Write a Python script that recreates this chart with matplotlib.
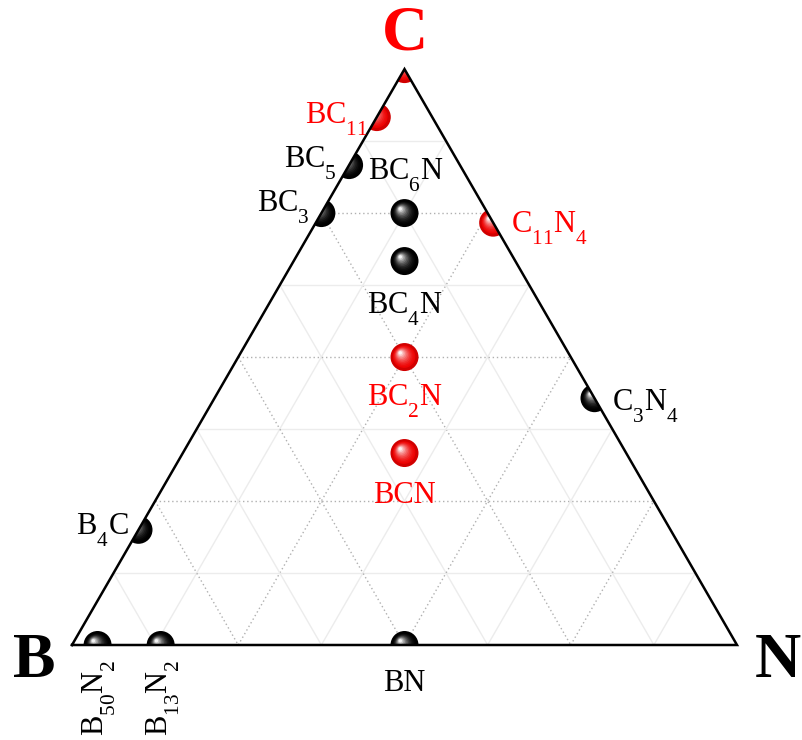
import numpy as np
import matplotlib
matplotlib.use("Agg")
import matplotlib.pyplot as plt
from matplotlib.patches import Polygon, Circle

plt.rcParams['font.family'] = ['Liberation Serif', 'DejaVu Serif']
plt.rcParams['mathtext.fontset'] = 'custom'
plt.rcParams['mathtext.rm'] = 'Liberation Serif'
plt.rcParams['mathtext.it'] = 'Liberation Serif:italic'
plt.rcParams['mathtext.bf'] = 'Liberation Serif:bold'

# deeper subscripts, like the original figure
try:
    import matplotlib._mathtext as _mt
    _mt.FontConstantsBase.sub1 = 0.85
    _mt.FontConstantsBase.sub2 = 0.85
except Exception:
    pass

# compositions as (B, C, N) atom counts
names = ["C", "BC11", "BC5", "BC3", "BC6N", "C11N4", "BC4N", "BC2N", "BCN",
         "C3N4", "B4C", "B50N2", "B13N2", "BN"]
b_cnt = [0, 1, 1, 1, 1, 0, 1, 1, 1, 0, 4, 50, 13, 1]
c_cnt = [1, 11, 5, 3, 6, 11, 4, 2, 1, 3, 1, 0, 0, 0]
n_cnt = [0, 0, 0, 0, 1, 4, 1, 1, 1, 4, 0, 2, 2, 1]
labels = ["", r"BC$_{11}$", r"BC$_{5}$", r"BC$_{3}$", r"BC$_{6}$N", r"C$_{11}$N$_{4}$",
          r"BC$_{4}$N", r"BC$_{2}$N", "BCN", r"C$_{3}$N$_{4}$", r"B$_{4}$C",
          r"B$_{50}$N$_{2}$", r"B$_{13}$N$_{2}$", "BN"]
red_set = {"C", "BC11", "C11N4", "BC2N", "BCN"}

# label placement: offset of the text anchor in pixels, ha, va, rotation
# (vertical anchor is the baseline of the capitals)
label_pos = {
    "BC11": (-9, -6, "right", "baseline", 0),
    "BC5": (-12, -2, "right", "baseline", 0),
    "BC3": (-12, 2, "right", "baseline", 0),
    "BC6N": (-36, 34, "left", "baseline", 0),
    "C11N4": (18, -10, "left", "baseline", 0),
    "BC4N": (0, -52, "center", "baseline", 0),
    "BC2N": (0, -48, "center", "baseline", 0),
    "BCN": (0, -50, "center", "baseline", 0),
    "C3N4": (18, -12, "left", "baseline", 0),
    "B4C": (-10, -4, "right", "baseline", 0),
    "B50N2": (2, -14, "center", "top", 90),
    "B13N2": (2, -14, "center", "top", 90),
    "BN": (0, -46, "center", "baseline", 0),
}

PX = 665.0  # pixels per unit


def to_xy(b, c, n):
    s = b + c + n
    return n / s + 0.5 * c / s, np.sqrt(3) / 2 * c / s


fig = plt.figure(figsize=(8.03, 7.40), dpi=100)
ax = fig.add_axes([0, 0, 1, 1])
ax.set_xlim(-72 / PX, 731 / PX)
ax.set_ylim(-95 / PX, 645 / PX)
ax.set_aspect('equal')
ax.axis('off')

h = np.sqrt(3) / 2
tri = Polygon([[0, 0], [1, 0], [0.5, h]], closed=True, facecolor='none',
              edgecolor='none')
ax.add_patch(tri)

# grid
for k in range(1, 8):
    f = k / 8
    major = (k % 2 == 0)
    style = dict(color='#b0b0b0', lw=1.0, ls=(0, (1, 2))) if major else \
        dict(color='#ececec', lw=1.0, ls='-')
    # constant C
    p1, p2 = to_xy(1 - f, f, 0), to_xy(0, f, 1 - f)
    ax.plot([p1[0], p2[0]], [p1[1], p2[1]], zorder=1, **style)
    # constant N
    p1, p2 = to_xy(1 - f, 0, f), to_xy(0, 1 - f, f)
    ax.plot([p1[0], p2[0]], [p1[1], p2[1]], zorder=1, **style)
    # constant B
    p1, p2 = to_xy(f, 1 - f, 0), to_xy(f, 0, 1 - f)
    ax.plot([p1[0], p2[0]], [p1[1], p2[1]], zorder=1, **style)

# shaded balls
r = 14 / PX
for name, b, c, n in zip(names, b_cnt, c_cnt, n_cnt):
    x, y = to_xy(b, c, n)
    red = name in red_set
    base = np.array([0.93, 0.0, 0.0]) if red else np.zeros(3)
    dark = np.array([0.82, 0.0, 0.0]) if red else np.zeros(3)
    circ = Circle((x, y), r, facecolor=dark, edgecolor='none', zorder=3)
    ax.add_patch(circ)
    circ.set_clip_path(tri)
    steps = 10
    for i in range(steps):
        t = (i + 1) / steps
        rr = r * (0.88 - 0.76 * t)
        off = r * 0.3 * t
        if red:
            col = base + (np.ones(3) - base) * (t ** 1.8) * 0.95
        else:
            col = np.ones(3) * (0.15 * t + 0.8 * t ** 2.2)
        cc = Circle((x - off, y + off), rr, facecolor=col, edgecolor='none',
                    zorder=3)
        ax.add_patch(cc)
        cc.set_clip_path(tri)

# triangle outline
ax.plot([0, 1, 0.5, 0], [0, 0, h, 0], color='black', lw=1.8, zorder=4,
        solid_joinstyle='miter')

# labels
for name, b, c, n, lab in zip(names, b_cnt, c_cnt, n_cnt, labels):
    if name not in label_pos:
        continue
    dx, dy, ha, va, rot = label_pos[name]
    x, y = to_xy(b, c, n)
    col = 'red' if name in red_set else 'black'
    ax.text(x + dx / PX, y + dy / PX, lab, ha=ha, va=va, rotation=rot,
            fontsize=22, color=col, zorder=5)

# vertex labels
ax.text(-38 / PX, -17 / PX, "B", ha='center', va='center', fontsize=46,
        fontweight='bold', color='black')
ax.text(1 + 41 / PX, -17 / PX, "N", ha='center', va='center', fontsize=46,
        fontweight='bold', color='black')
ax.text(0.5, h + 35 / PX, "C", ha='center', va='center', fontsize=46,
        fontweight='bold', color='red')

fig.savefig("out.png", dpi=100)
